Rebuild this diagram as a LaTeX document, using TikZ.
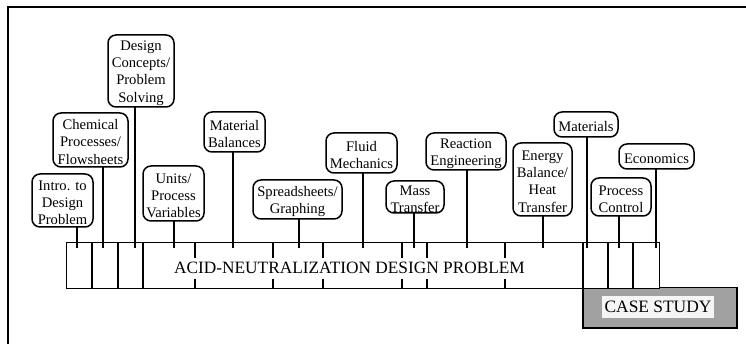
\documentclass[tikz,border=0pt]{standalone}
\usepackage{fontspec}
\setmainfont{Liberation Serif}
\begin{document}
\begin{tikzpicture}[x=1pt,y=-1pt,
  bx/.style={draw,line width=1.5pt,rounded corners=8pt,inner sep=0pt,outer sep=0pt},
  bxt/.style={align=center,inner sep=0pt,font=\fontsize{14.6}{17.2}\selectfont},
  ln/.style={line width=1.4pt},
  frame/.style={line width=2.2pt}]
\useasboundingbox (0,0) rectangle (746,344);
\newcommand\bxx[7]{%
  \node[bx,minimum width={(#4-#2)*1pt},minimum height={(#5-#3)*1pt}] (#1) at ({(#2+#4)/2},{(#3+#5)/2}) {};
  \node[bxt] (#1t) at ([yshift=-2pt]#1.center) {#7};
  \coordinate (#1e) at (#6,248);
  \draw[ln] (#1.south -| #1e) -- (#1e);}
% frame
\coordinate (f1) at (8,350);
\coordinate (f2) at (8,7);
\coordinate (f3) at (752,7);
\draw[frame] (f1) -- (f2) -- (f3);
% case study
\node[draw,line width=1.5pt,fill=black!37,minimum width=154pt,minimum height=40pt,inner sep=0pt,anchor=north west] (cs) at (582,287) {};
\node[fill=black!4,minimum width=112pt,minimum height=22pt,inner sep=0pt,font=\fontsize{17.4}{20}\selectfont] (cst) at (658,307) {CASE STUDY};
% bar
\node[draw,line width=1.4pt,fill=white,minimum width=593pt,minimum height=46pt,inner sep=0pt,anchor=north west] (bar) at (66,242) {};
\node[font=\fontsize{17.3}{20}\selectfont,inner sep=0pt] (bart) at (349.5,268) {ACID-NEUTRALIZATION DESIGN PROBLEM};
\foreach \x in {92,118,143,583,608,633}{\draw[ln] (\x,242) -- (\x,288);}
\foreach \x in {195,273,323,402,427,505}{\draw[ln] (\x,242) -- (\x,258); \draw[ln] (\x,279) -- (\x,288);}
% boxes
\bxx{intro}{32}{174}{93}{227}{77}{Intro. to\\Design\\Problem}
\bxx{chem}{53}{113}{128}{167}{103}{Chemical\\Processes/\\Flowsheets}
\bxx{design}{108}{35}{174}{107}{135}{Design\\Concepts/\\Problem\\Solving}
\bxx{units}{143}{166}{204}{221}{174}{Units/\\Process\\Variables}
\bxx{matbal}{204}{112}{265}{152}{233}{Material\\Balances}
\bxx{spread}{253}{180}{342}{219}{299}{Spreadsheets/\\Graphing}
\bxx{fluid}{326}{133}{397}{173}{363}{Fluid\\Mechanics}
\bxx{mass}{386}{181}{444}{213}{414}{Mass\\Transfer}
\bxx{react}{426}{133}{506}{170}{467}{Reaction\\Engineering}
\bxx{energy}{513}{143}{572}{216}{543}{Energy\\Balance/\\Heat\\Transfer}
\bxx{materials}{554}{112}{618}{137}{587}{Materials}
\bxx{process}{591}{178}{651}{216}{619}{Process\\Control}
\bxx{econ}{619}{144}{694}{169}{656}{Economics}
\end{tikzpicture}
\end{document}
